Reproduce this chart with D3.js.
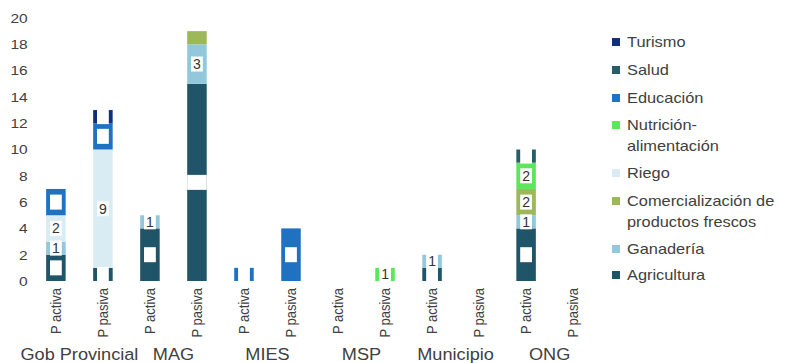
<!DOCTYPE html>
<html><head><meta charset="utf-8">
<script src="https://cdn.jsdelivr.net/npm/d3@7"></script>
<style>
html,body{margin:0;padding:0;background:#fff;}
svg{display:block;font-family:"Liberation Sans",Arial,sans-serif;}
</style></head>
<body>
<svg id="chart" width="794" height="363"></svg>
<script>
const groups = ["Gob Provincial","MAG","MIES","MSP","Municipio","ONG"];
const subLabels = ["P activa","P pasiva"];
const yTicks = [0,2,4,6,8,10,12,14,16,18,20];
const seriesNames = ["Agricultura","Ganadería","Comercialización de productos frescos","Riego","Nutrición-alimentación","Educación","Salud","Turismo"];
const legendLines = [["Turismo"],["Salud"],["Educación"],["Nutrición-","alimentación"],["Riego"],["Comercialización de","productos frescos"],["Ganadería"],["Agricultura"]];
// bars order: Gob a, Gob p, MAG a, MAG p, MIES a, MIES p, MSP a, MSP p, Mun a, Mun p, ONG a, ONG p
const agricultura      = [2,1,4,15,0,0,0,0,1,0,4,0];
const ganaderia        = [1,0,1,3,0,0,0,0,1,0,1,0];
const comercializacion = [0,0,0,1,0,0,0,0,0,0,2,0];
const riego            = [2,9,0,0,0,0,0,0,0,0,0,0];
const nutricion        = [0,0,0,0,0,0,0,1,0,0,2,0];
const educacion        = [2,2,0,0,1,4,0,0,0,0,0,0];
const salud            = [0,0,0,0,0,0,0,0,0,0,1,0];
const turismo          = [0,1,0,0,0,0,0,0,0,0,0,0];
const seriesValues = [agricultura,ganaderia,comercializacion,riego,nutricion,educacion,salud,turismo];
const noLabel = [["MAG","P pasiva","Comercialización de productos frescos"]];

const colors = {
  "Agricultura":"#1f5469",
  "Ganadería":"#93c8dc",
  "Comercialización de productos frescos":"#9cb858",
  "Riego":"#d9ecf4",
  "Nutrición-alimentación":"#5ce65c",
  "Educación":"#1f72c2",
  "Salud":"#285e6c",
  "Turismo":"#12307a"
};
// labels on these series are rendered as blank white boxes (as in the reference)
const blankLabelSeries = ["Agricultura","Educación","Salud","Turismo"];

const keys = [];
groups.forEach(g => subLabels.forEach(s => keys.push(g + "|" + s)));
const rows = keys.map((k,i) => {
  const r = {key:k, group:k.split("|")[0], sub:k.split("|")[1]};
  seriesNames.forEach((n,j) => r[n] = seriesValues[j][i]);
  return r;
});
const stacked = d3.stack().keys(seriesNames)(rows);

const svg = d3.select("#chart");
const x = d3.scaleBand().domain(keys).range([32.5,596.5]).paddingInner(0.585).paddingOuter(0.29);
const y = d3.scaleLinear().domain([0,20]).range([281,18]);

// bars
const layer = svg.append("g");
stacked.forEach(s => {
  layer.append("g").attr("fill", colors[s.key]).selectAll("rect")
    .data(s.filter(d => d[1] - d[0] > 0)).join("rect")
    .attr("x", d => x(d.data.key))
    .attr("width", x.bandwidth())
    .attr("y", d => y(d[1]))
    .attr("height", d => y(d[0]) - y(d[1]));
});

// data labels
const lab = svg.append("g").attr("font-size", 14);
stacked.forEach(s => {
  s.filter(d => d[1] - d[0] > 0).forEach(d => {
    if (noLabel.some(n => n[0] === d.data.group && n[1] === d.data.sub && n[2] === s.key)) return;
    const cx = x(d.data.key) + x.bandwidth()/2;
    const cy = (y(d[0]) + y(d[1]))/2;
    const g = lab.append("g");
    const t = g.append("text").attr("x", cx).attr("y", cy).attr("dy","0.36em")
      .attr("text-anchor","middle").attr("fill","#333333")
      .text(d[1] - d[0]);
    const w = t.node().getComputedTextLength() + 4;
    g.insert("rect","text").attr("x", cx - w/2).attr("y", cy - 7.5)
      .attr("width", w).attr("height", 15).attr("fill","#ffffff");
    if (blankLabelSeries.includes(s.key)) t.remove();
  });
});

// y axis
const yAxis = svg.append("g").attr("transform","translate(30,0)")
  .call(d3.axisLeft(y).tickValues(yTicks).tickSize(0).tickPadding(0));
yAxis.select(".domain").remove();
yAxis.selectAll("text").attr("font-size",13.5).attr("fill","#404040")
  .attr("font-family","Liberation Sans, Arial, sans-serif")
  .attr("x",-2).attr("transform","scale(1.15,1)");

// x axis
const xAxis = svg.append("g").attr("transform","translate(0,281)")
  .call(d3.axisBottom(x).tickSize(0).tickFormat(k => k.split("|")[1]));
xAxis.select(".domain").remove();
xAxis.selectAll("text").attr("font-size",13).attr("fill","#404040")
  .attr("font-family","Liberation Sans, Arial, sans-serif")
  .attr("text-anchor","end").attr("x",-7).attr("y",0).attr("dy","0.36em")
  .attr("transform","rotate(-90) scale(1,1.12)");

// group labels
svg.append("g").selectAll("text").data(groups).join("text")
  .attr("transform", g => {
    const cx = (x(g+"|P activa") + x(g+"|P pasiva") + x.bandwidth())/2;
    return "translate(" + cx + ",360) scale(1.1,1)";
  })
  .attr("text-anchor","middle").attr("font-size",16.5).attr("fill","#404040")
  .text(g => g);

// legend
const legY = [42,70,98,125,173,201,249,275];
const leg = svg.append("g");
legendLines.forEach((lines,i) => {
  const name = seriesNames[seriesNames.length - 1 - i];
  leg.append("rect").attr("x",612).attr("y",legY[i]-4).attr("width",8).attr("height",8)
    .attr("fill", colors[name]);
  lines.forEach((ln,j) => {
    leg.append("text").attr("transform","translate(627," + (legY[i] + j*20.5) + ") scale(1.17,1)")
      .attr("dy","0.36em").attr("font-size",14).attr("fill","#404040").text(ln);
  });
});
</script>
</body></html>
